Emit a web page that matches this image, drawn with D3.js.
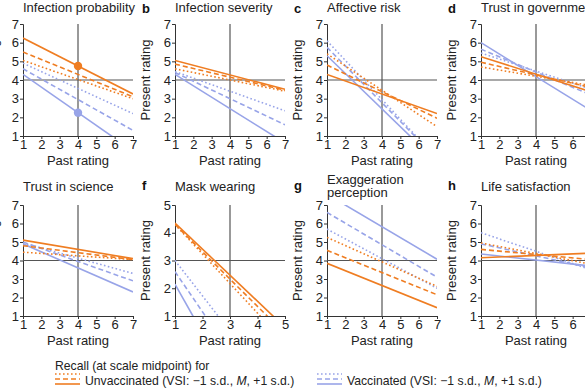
<!DOCTYPE html>
<html>
<head>
<meta charset="utf-8">
<script src="https://cdnjs.cloudflare.com/ajax/libs/d3/7.8.5/d3.min.js"></script>
<style>
  body { margin: 0; background: #fff; }
  svg { font-family: "Liberation Sans", Arial, sans-serif; }
  .tick text { font-size: 13px; fill: #222; }
  .domain, .tick line { stroke: #333; }
</style>
</head>
<body>
<svg id="chart" width="585" height="390"></svg>
<script>
// panel info
var letters = ["a", "b", "c", "d", "e", "f", "g", "h"];
var titles = [["Infection probability"], ["Infection severity"], ["Affective risk"], ["Trust in government"],
              ["Trust in science"], ["Mask wearing"], ["Exaggeration", "perception"], ["Life satisfaction"]];
var scaleMax = [7, 7, 7, 7, 7, 5, 7, 7];
var midpoint = [4, 4, 4, 4, 4, 3, 4, 4];

// present rating at past rating = 1 and at past rating = scale max
var unvacDotted = [[5.05, 3.0], [4.6, 3.4], [5.4, 1.5], [4.7, 3.7], [4.45, 4.05], [4.3, 0.04], [5.25, 2.6], [4.95, 3.8]];
var unvacDashed = [[5.5, 3.1], [4.85, 3.45], [4.8, 1.95], [4.95, 3.6], [4.8, 4.05], [4.3, 0.36], [4.55, 2.15], [4.6, 4.05]];
var unvacSolid  = [[6.25, 3.25], [5.05, 3.5], [4.3, 2.2], [5.25, 3.37], [5.1, 4.1], [4.35, 0.59], [3.85, 1.45], [4.15, 4.4]];
var vacDotted   = [[4.9, 2.2], [4.45, 2.35], [6.1, -0.2], [5.45, 3.5], [4.95, 3.3], [3.0, -2.1], [5.7, 2.5], [5.5, 3.5]];
var vacDashed   = [[4.6, 1.3], [4.4, 1.6], [5.75, -0.2], [5.65, 3.2], [5.0, 2.9], [2.6, -3.2], [6.6, 3.1], [4.9, 3.6]];
var vacSolid    = [[4.3, 0.2], [4.3, 0.63], [5.3, -0.4], [6.0, 2.36], [4.9, 2.3], [2.15, -4.9], [7.58, 4.07], [4.35, 3.7]];

// recall points (panel a only)
var recallPoints = [{panel: 0, x: 4, y: 4.75, group: "unvac"}, {panel: 0, x: 4, y: 2.25, group: "vac"}];

var orange = "#ef7d22", blue = "#98a4e8";
var dashes = {dotted: "1.6,2.4", dashed: "5,3", solid: null};

var series = [
  {data: vacDotted, color: blue, style: "dotted"},
  {data: vacDashed, color: blue, style: "dashed"},
  {data: vacSolid, color: blue, style: "solid"},
  {data: unvacDotted, color: orange, style: "dotted"},
  {data: unvacDashed, color: orange, style: "dashed"},
  {data: unvacSolid, color: orange, style: "solid"}
];

var svg = d3.select("#chart");
var colLeft = [23, 175, 327, 481];
var rowTop = [24, 205];
var pw = 110, ph = [112, 111];

letters.forEach(function (letter, i) {
  var col = i % 4, row = Math.floor(i / 4);
  var left = colLeft[col], top = rowTop[row], h = ph[row];
  var max = scaleMax[i];

  var x = d3.scaleLinear().domain([1, max]).range([0, pw]);
  var y = d3.scaleLinear().domain([1, max]).range([h, 0]);

  var g = svg.append("g").attr("transform", "translate(" + left + "," + top + ")");

  g.append("clipPath").attr("id", "clip" + i)
    .append("rect").attr("x", 0).attr("y", 0).attr("width", pw).attr("height", h);

  // title and letter
  var tl = titles[i];
  var tBase = row == 0 ? -12 : (tl.length > 1 ? -21 : -14);
  tl.forEach(function (t, k) {
    g.append("text").attr("x", 0).attr("y", tBase + k * 13)
      .attr("font-size", 13).attr("fill", "#222").text(t);
  });
  g.append("text").attr("x", -33).attr("y", row == 0 ? -11 : -15)
    .attr("font-size", 13).attr("font-weight", "bold").attr("fill", "#111").text(letter);

  // axes
  var ticks = d3.range(1, max + 1);
  g.append("g").attr("transform", "translate(0," + h + ")")
    .call(d3.axisBottom(x).tickValues(ticks).tickFormat(d3.format("d")).tickSize(3).tickPadding(1));
  g.append("g")
    .call(d3.axisLeft(y).tickValues(ticks).tickFormat(d3.format("d")).tickSize(3).tickPadding(1));

  g.append("text").attr("x", pw / 2).attr("y", h + 29).attr("text-anchor", "middle")
    .attr("font-size", 13).attr("fill", "#222").text("Past rating");
  g.append("text").attr("transform", "translate(-25," + (h / 2) + ") rotate(-90)")
    .attr("text-anchor", "middle").attr("font-size", 13).attr("fill", "#222").text("Present rating");

  // midpoint reference lines
  g.append("line").attr("x1", x(midpoint[i])).attr("x2", x(midpoint[i]))
    .attr("y1", 0).attr("y2", h).attr("stroke", "#555").attr("stroke-width", 1.2);
  g.append("line").attr("x1", 0).attr("x2", pw)
    .attr("y1", y(midpoint[i])).attr("y2", y(midpoint[i])).attr("stroke", "#555").attr("stroke-width", 1.2);

  // regression lines
  var lg = g.append("g").attr("clip-path", "url(#clip" + i + ")");
  series.forEach(function (s) {
    var v = s.data[i];
    lg.append("line")
      .attr("x1", x(1)).attr("y1", y(v[0]))
      .attr("x2", x(max)).attr("y2", y(v[1]))
      .attr("stroke", s.color).attr("stroke-width", 1.6)
      .attr("stroke-dasharray", dashes[s.style]);
  });

  recallPoints.filter(function (p) { return p.panel == i; }).forEach(function (p) {
    g.append("circle").attr("cx", x(p.x)).attr("cy", y(p.y)).attr("r", 4.2)
      .attr("fill", p.group == "unvac" ? orange : blue);
  });
});

// legend
var legend = svg.append("g");
legend.append("text").attr("x", 55).attr("y", 370).attr("font-size", 12.2).attr("fill", "#222")
  .text("Recall (at scale midpoint) for");

function legendItem(x0, color, label) {
  ["dotted", "dashed", "solid"].forEach(function (st, k) {
    legend.append("line").attr("x1", x0).attr("x2", x0 + 25)
      .attr("y1", 374 + k * 5).attr("y2", 374 + k * 5)
      .attr("stroke", color).attr("stroke-width", 1.6)
      .attr("stroke-dasharray", dashes[st]);
  });
  var t = legend.append("text").attr("x", x0 + 30).attr("y", 385).attr("font-size", 12.2).attr("fill", "#222");
  t.append("tspan").text(label + " (VSI: \u22121 s.d., ");
  t.append("tspan").attr("font-style", "italic").text("M");
  t.append("tspan").text(", +1 s.d.)");
}
legendItem(55, orange, "Unvaccinated");
legendItem(317, blue, "Vaccinated");
</script>
</body>
</html>
